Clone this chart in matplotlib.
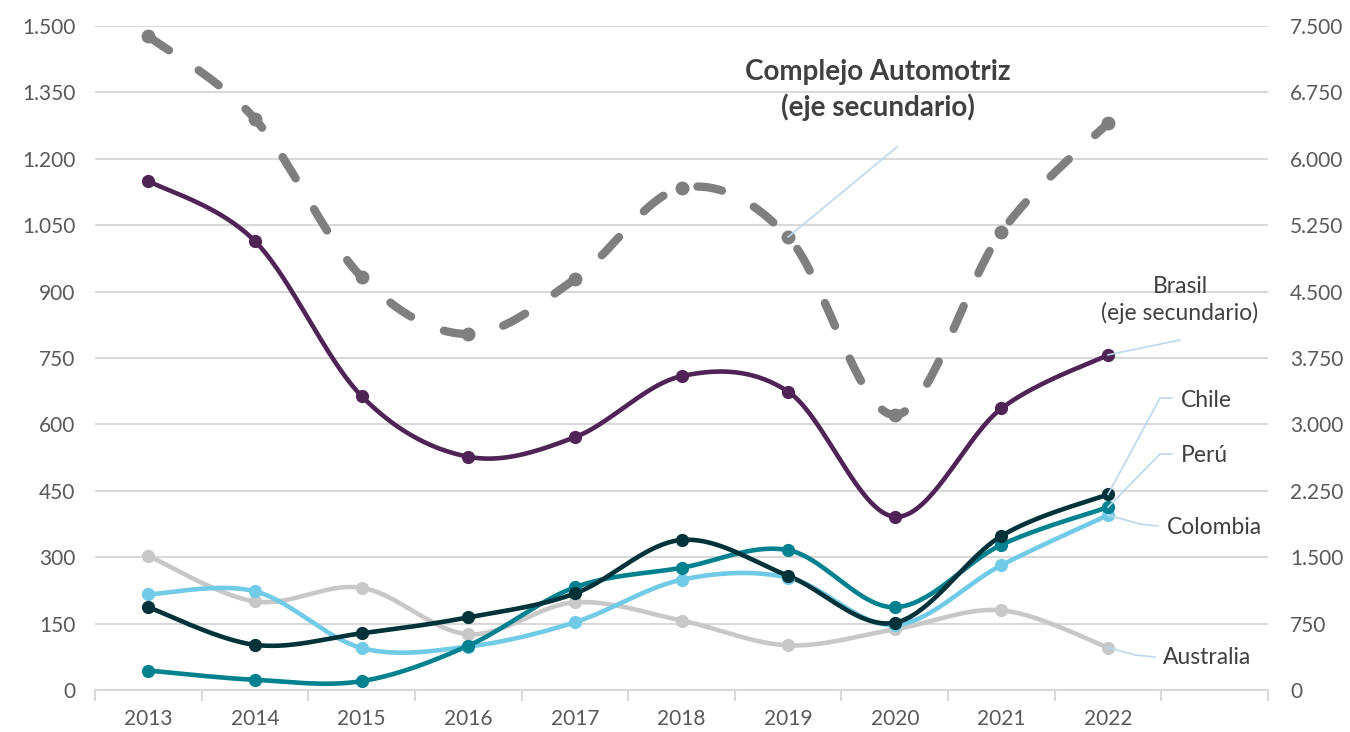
import numpy as np
import matplotlib
matplotlib.use("Agg")
import matplotlib.pyplot as plt
from matplotlib.lines import Line2D
from matplotlib.ticker import FuncFormatter

plt.rcParams['font.family'] = ['Lato', 'DejaVu Sans']

# --- data ---
years = ['2013', '2014', '2015', '2016', '2017', '2018', '2019', '2020', '2021', '2022']

# primary axis
chile = [187, 102, 128, 164, 218, 339, 258, 152, 348, 442]
peru = [44, 23, 20, 100, 232, 276, 316, 187, 328, 413]
colombia = [216, 223, 95, 98, 153, 249, 254, 147, 282, 395]
australia = [303, 200, 231, 126, 198, 157, 101, 137, 180, 96]

# secondary axis
brasil = [5750, 5070, 3320, 2635, 2855, 3545, 3370, 1957, 3180, 3785]
automotriz = [7385, 6450, 4665, 4020, 4640, 5670, 5117, 3106, 5173, 6404]

W, H = 1350, 732
GRID = '#d9d9d9'
TICK = '#595959'
LABEL = '#404040'
LEADER = '#bdd7ee'


def smooth(vals, n=40):
    """Excel-like smoothed line (Catmull-Rom style bezier)."""
    p = np.column_stack([np.arange(len(vals)), np.asarray(vals, float)])
    out = []
    for i in range(len(p) - 1):
        p0 = p[i - 1] if i > 0 else p[i]
        p3 = p[i + 2] if i + 2 < len(p) else p[i + 1]
        c1 = p[i] + (p[i + 1] - p0) / 6
        c2 = p[i + 1] - (p3 - p[i]) / 6
        t = np.linspace(0, 1, n)[:, None]
        seg = ((1 - t) ** 3) * p[i] + 3 * ((1 - t) ** 2) * t * c1 \
            + 3 * (1 - t) * t ** 2 * c2 + t ** 3 * p[i + 1]
        out.append(seg if i == 0 else seg[1:])
    out = np.vstack(out)
    return out[:, 0], out[:, 1]


def px(x, y):
    return x / W, 1 - y / H


def thousands(v, pos):
    return f"{int(v):,}".replace(",", ".")


fig = plt.figure(figsize=(W / 100, H / 100), dpi=100)
ax = fig.add_axes([95 / W, 1 - 690 / H, (1268 - 95) / W, (690 - 26) / H])
ax2 = ax.twinx()

x = np.arange(len(years))

series1 = [
    (australia, '#c8c8c8'),
    (colombia, '#72cbe6'),
    (peru, '#00818f'),
    (chile, '#00323a'),
]
for vals, col in series1:
    sx, sy = smooth(vals)
    ax.plot(sx, sy, color=col, lw=3.3, solid_capstyle='round', zorder=3)
    ax.plot(x, vals, 'o', color=col, ms=8.5, zorder=4)

sx, sy = smooth(brasil)
ax2.plot(sx, sy, color='#4f2356', lw=3.3, zorder=3)
ax2.plot(x, brasil, 'o', color='#4f2356', ms=8.5, zorder=4)

sx, sy = smooth(automotriz)
ax2.plot(sx, sy, color='#7f7f7f', lw=6, dashes=(3.0, 4.3),
         dash_capstyle='round', zorder=3)
ax2.plot(x, automotriz, 'o', color='#7f7f7f', ms=9, zorder=4)

# axes styling
ax.set_xlim(-0.5, 10.5)
ax.set_ylim(0, 1500)
ax2.set_ylim(0, 7500)
ax.set_yticks(np.arange(0, 1501, 150))
ax2.set_yticks(np.arange(0, 7501, 750))
ax.yaxis.set_major_formatter(FuncFormatter(thousands))
ax2.yaxis.set_major_formatter(FuncFormatter(thousands))
ax.grid(axis='y', color=GRID, lw=1.5, zorder=0)
ax.set_axisbelow(True)

ax.set_xticks(x)
ax.set_xticklabels(years)
ax.set_xticks(np.arange(-0.5, 10.6, 1), minor=True)
ax.tick_params(axis='x', which='major', length=0, pad=14, labelsize=15, labelcolor=TICK)
ax.tick_params(axis='x', which='minor', length=8, width=1.5, color=GRID, direction='out')
ax.tick_params(axis='y', length=0, pad=14, labelsize=15, labelcolor=TICK)
ax2.tick_params(axis='y', length=0, pad=16, labelsize=15, labelcolor=TICK)

for a in (ax, ax2):
    for side in ('left', 'right', 'top', 'bottom'):
        a.spines[side].set_visible(False)
ax.spines['bottom'].set_visible(True)
ax.spines['bottom'].set_color(GRID)
ax.spines['bottom'].set_linewidth(1.5)

fig.canvas.draw()


def to_fig(axis, xv, yv):
    d = axis.transData.transform((xv, yv))
    return fig.transFigure.inverted().transform(d)


def leader(points):
    xs = [p[0] for p in points]
    ys = [p[1] for p in points]
    fig.add_artist(Line2D(xs, ys, color=LEADER, lw=1.2, transform=fig.transFigure, zorder=5))


# labels
fig.text(*px(878, 90), 'Complejo Automotriz\n(eje secundario)', ha='center', va='center',
         fontsize=20, fontweight='bold', color=LABEL, linespacing=1.4)
leader([px(897, 147), to_fig(ax2, 6, automotriz[6])])

fig.text(*px(1180, 300), 'Brasil\n(eje secundario)', ha='center', va='center',
         fontsize=16.5, color=LABEL, linespacing=1.3)
leader([px(1180, 340), to_fig(ax2, 9, brasil[9])])

fig.text(*px(1181, 400), 'Chile', ha='left', va='center', fontsize=16.5, color=LABEL)
leader([px(1172, 398), px(1160, 398), to_fig(ax, 9, chile[9])])

fig.text(*px(1181, 455), 'Perú', ha='left', va='center', fontsize=16.5, color=LABEL)
leader([px(1172, 454), px(1160, 454), to_fig(ax, 9, peru[9])])

fig.text(*px(1167, 527), 'Colombia', ha='left', va='center', fontsize=16.5, color=LABEL)
leader([px(1158, 526), px(1140, 524), to_fig(ax, 9, colombia[9])])

fig.text(*px(1163, 658), 'Australia', ha='left', va='center', fontsize=16.5, color=LABEL)
leader([px(1155, 657), px(1135, 655), to_fig(ax, 9, australia[9])])

fig.savefig('out.png', dpi=100)
